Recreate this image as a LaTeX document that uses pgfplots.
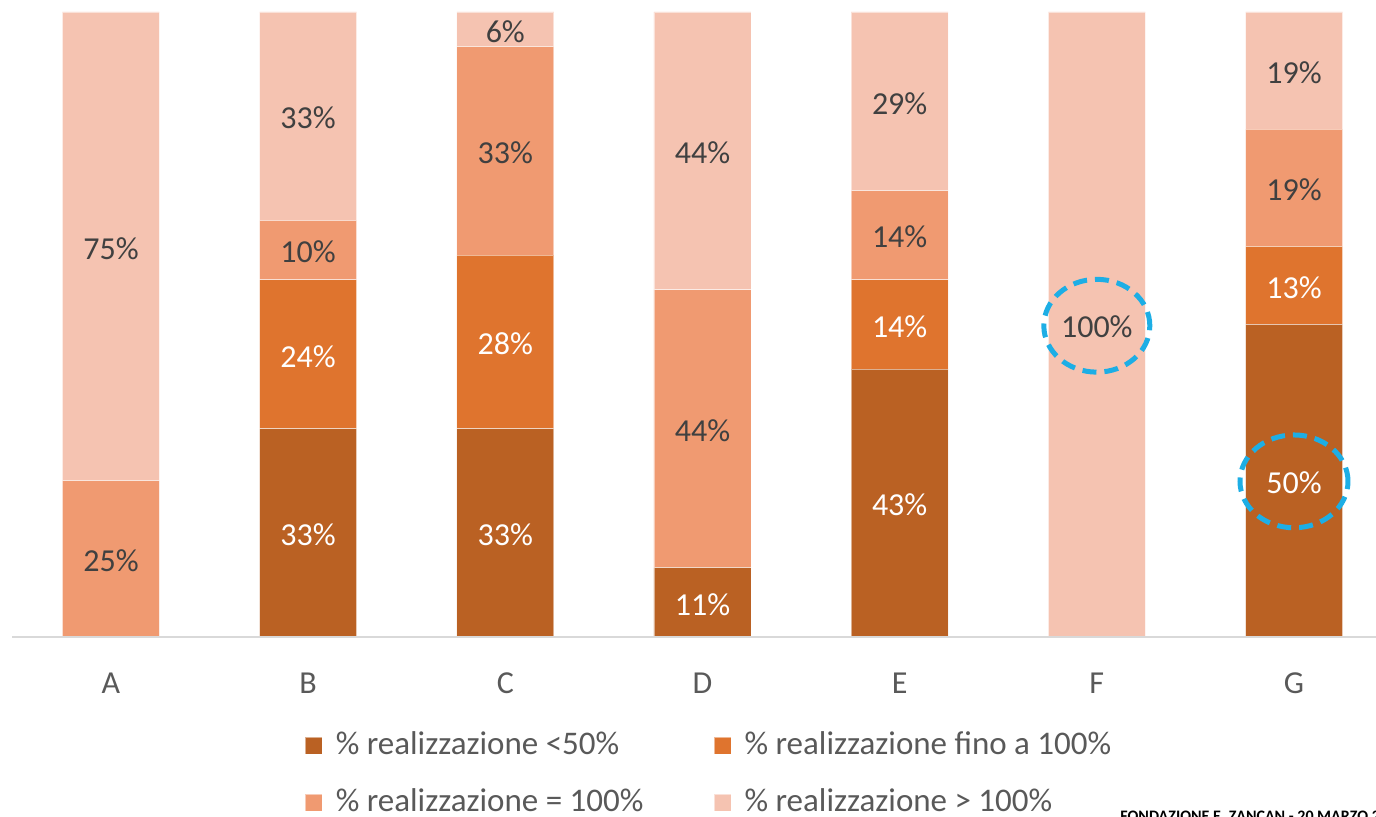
\documentclass[border=0pt]{standalone}
\usepackage{fontspec}
\setmainfont{Carlito}
\usepackage{pgfplots}
\usepackage{pgfplotstable}
\pgfplotsset{compat=1.18}
\definecolor{cA}{HTML}{BA6123}
\definecolor{cB}{HTML}{DF742E}
\definecolor{cC}{HTML}{F09A71}
\definecolor{cD}{HTML}{F5C3B1}
\definecolor{txtdark}{HTML}{404040}
\definecolor{txtgray}{HTML}{595959}
\definecolor{axgray}{HTML}{D9D9D9}
\definecolor{circblue}{HTML}{1DAEE5}

\pgfplotstableread{
x a b c d
0 0 0 25 75
1 33.333 23.810 9.524 33.333
2 33.333 27.778 33.333 5.556
3 11.111 0 44.444 44.444
4 42.857 14.286 14.286 28.571
5 0 0 0 100
6 50 12.5 18.75 18.75
}\data

% label positions (segment midpoints), white text
\pgfplotstableread{
x y lab
1 16.667 33\%
1 45.238 24\%
2 16.667 33\%
2 47.222 28\%
3 5.556 11\%
4 21.429 43\%
4 50.000 14\%
6 25.000 50\%
6 56.250 13\%
}\labwhite

% label positions, dark text
\pgfplotstableread{
x y lab
0 12.5 25\%
0 62.5 75\%
1 61.905 10\%
1 83.333 33\%
2 77.778 33\%
2 97.222 6\%
3 33.333 44\%
3 77.778 44\%
4 64.286 14\%
4 85.714 29\%
5 50.000 100\%
6 71.875 19\%
6 90.625 19\%
}\labdark

\pgfplotsset{
  base/.style={
    scale only axis,
    width=682pt, height=312.5pt,
    at={(6pt,90pt)}, anchor=south west,
    xmin=-0.502, xmax=6.416,
    ymin=0, ymax=100,
  }
}

\begin{document}
\begin{tikzpicture}
\useasboundingbox (0,0) rectangle (688pt,408.5pt);
\clip (0,0) rectangle (688pt,408.5pt);
\begin{axis}[
  base,
  ybar stacked,
  bar width=48.5pt,
  axis on top,
  axis x line*=bottom,
  axis y line=none,
  axis line style={axgray, line width=0.75pt},
  xtick=data,
  xticklabels={A,B,C,D,E,F,G},
  xtick style={draw=none},
  ytick=\empty,
  xticklabel style={font=\fontsize{16}{19}\selectfont, text=txtgray, anchor=base, yshift=-28.5pt},
  legend columns=2,
  legend image code/.code={\fill[#1] (0pt,-4.25pt) rectangle (8.5pt,4.25pt);},
  legend style={
    draw=none, fill=none,
    at={(0.2148,-0.1536)}, anchor=north west,
    inner sep=0pt, outer sep=0pt,
    font=\fontsize{16.5}{19}\selectfont,
    text=txtgray,
    nodes={inner sep=0pt, text height=11pt, text depth=2pt, anchor=west},
    /tikz/column sep=0pt,
    /tikz/every odd column/.append style={column sep=6.5pt},
    /tikz/row sep=15.5pt,
  },
]
\addplot[fill=cA, draw=white, draw opacity=0.5, line width=0.4pt] table[x=x, y=a] {\data};
\addlegendentry{\makebox[189pt][l]{\% realizzazione <50\%}}
\addplot[fill=cB, draw=white, draw opacity=0.5, line width=0.4pt] table[x=x, y=b] {\data};
\addlegendentry{\% realizzazione fino a 100\%}
\addplot[fill=cC, draw=white, draw opacity=0.5, line width=0.4pt] table[x=x, y=c] {\data};
\addlegendentry{\makebox[189pt][l]{\% realizzazione = 100\%}}
\addplot[fill=cD, draw=white, draw opacity=0.5, line width=0.4pt] table[x=x, y=d] {\data};
\addlegendentry{\% realizzazione > 100\%}
\end{axis}

\begin{axis}[
  base,
  hide axis,
  nodes near coords,
  point meta=explicit symbolic,
  every node near coord/.append style={anchor=center, yshift=-1pt, font=\fontsize{16}{19}\selectfont},
]
\addplot[draw=none, mark=none, nodes near coords style={text=white}] table[x=x, y=y, meta=lab] {\labwhite};
\addplot[draw=none, mark=none, nodes near coords style={text=txtdark}] table[x=x, y=y, meta=lab] {\labdark};
\draw[circblue, line width=2.5pt, dash pattern=on 7pt off 4pt] (axis cs:5,49.8) ellipse [x radius=26.5pt, y radius=23.2pt];
\draw[circblue, line width=2.5pt, dash pattern=on 7pt off 4pt] (axis cs:6,24.9) ellipse [x radius=27pt, y radius=23.2pt];
\end{axis}

\node[anchor=base west, inner sep=0pt, font=\bfseries\fontsize{8}{9}\selectfont] at (560pt,-2.3pt) {FONDAZIONE E. ZANCAN - 20 MARZO 2015};
\end{tikzpicture}
\end{document}
